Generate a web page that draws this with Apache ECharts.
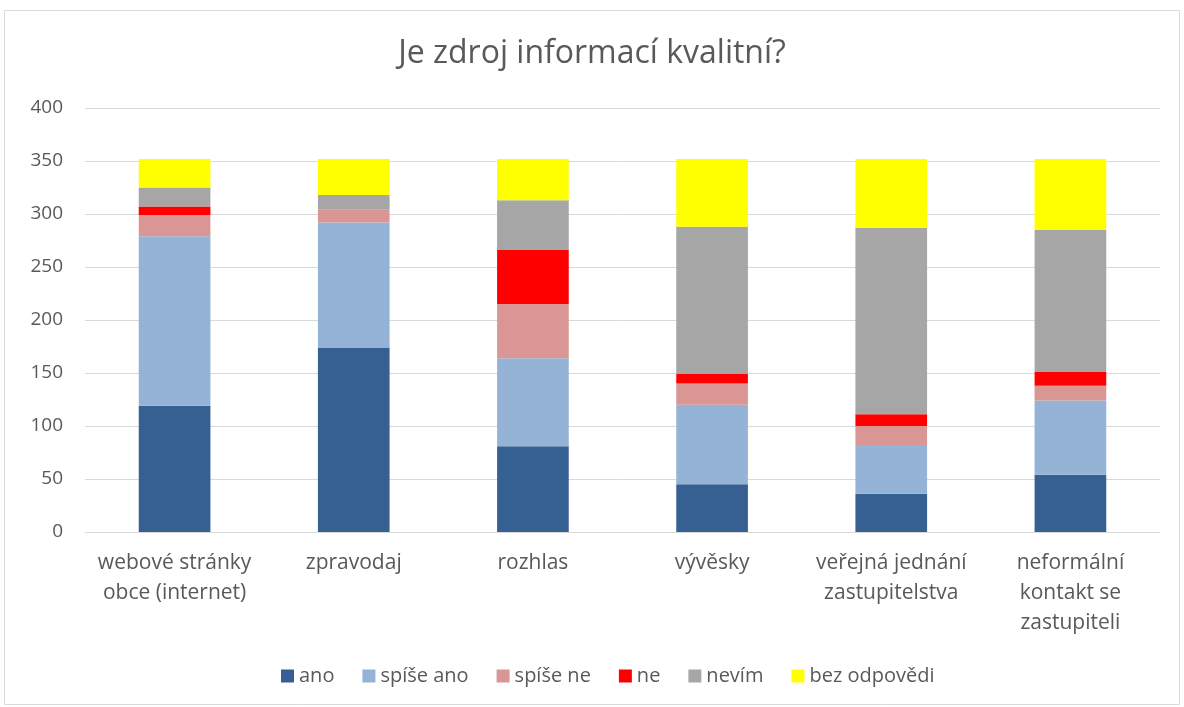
<!DOCTYPE html>
<html><head><meta charset="utf-8">
<script src="https://cdn.jsdelivr.net/npm/echarts@6/dist/echarts.min.js"></script>
<style>html,body{margin:0;padding:0;background:#fff}#c{width:1184px;height:707px}</style>
</head><body><div id="c"></div>
<script>
const categories = ["webové stránky\nobce (internet)", "zpravodaj", "rozhlas", "vývěsky", "veřejná jednání\nzastupitelstva", "neformální\nkontakt se\nzastupiteli"];
const seriesNames = ["ano", "spíše ano", "spíše ne", "ne", "nevím", "bez odpovědi"];
const ano = [119, 174, 81, 45, 36, 54];
const spiseAno = [160, 118, 83, 75, 46, 70];
const spiseNe = [20, 12, 51, 20, 18, 14];
const ne = [8, 0, 51, 9, 11, 13];
const nevim = [18, 14, 47, 139, 176, 134];
const bezOdpovedi = [27, 34, 39, 64, 65, 67];
const yTicks = [0, 50, 100, 150, 200, 250, 300, 350, 400];
const colors = ["#366092", "#95b3d7", "#da9694", "#ff0000", "#a6a6a6", "#ffff00"];
const values = [ano, spiseAno, spiseNe, ne, nevim, bezOdpovedi];

const chart = echarts.init(document.getElementById('c'));
const font = "'Open Sans', sans-serif";
chart.setOption({
  animation: false,
  backgroundColor: '#fff',
  graphic: [{type:'rect', shape:{x:4.5,y:10.5,width:1175,height:694}, style:{fill:'none', stroke:'#d9d9d9', lineWidth:1}}],
  title: {text: 'Je zdroj informací kvalitní?', left: 'center', top: 33,
    textStyle: {fontFamily: font, fontWeight: 'normal', fontSize: 32, color: '#595959'}},
  legend: {bottom: 16, left: 276, itemWidth: 13, itemHeight: 13, itemGap: 28,
    icon: 'rect', textStyle: {fontFamily: font, fontSize: 20, color: '#595959'}, data: seriesNames},
  grid: {left: 85, right: 24, top: 108, bottom: 175, containLabel: false},
  xAxis: {type: 'category', data: categories,
    axisLine: {lineStyle: {color: '#d9d9d9', width: 1}}, axisTick: {show: false},
    axisLabel: {fontFamily: font, fontSize: 21, color: '#595959', lineHeight: 30, margin: 16, interval: 0}},
  yAxis: {type: 'value', min: 0, max: 400, interval: 50,
    axisLine: {show: false}, axisTick: {show: false},
    splitLine: {lineStyle: {color: '#d9d9d9', width: 1}},
    axisLabel: {fontFamily: font, fontSize: 19, color: '#595959', margin: 22,
      formatter: v => yTicks.includes(v) ? String(v) : ''}},
  series: seriesNames.map((n, i) => ({
    name: n, type: 'bar', stack: 'total', data: values[i], barWidth: '40%',
    itemStyle: {color: colors[i]}
  }))
});
</script></body></html>
